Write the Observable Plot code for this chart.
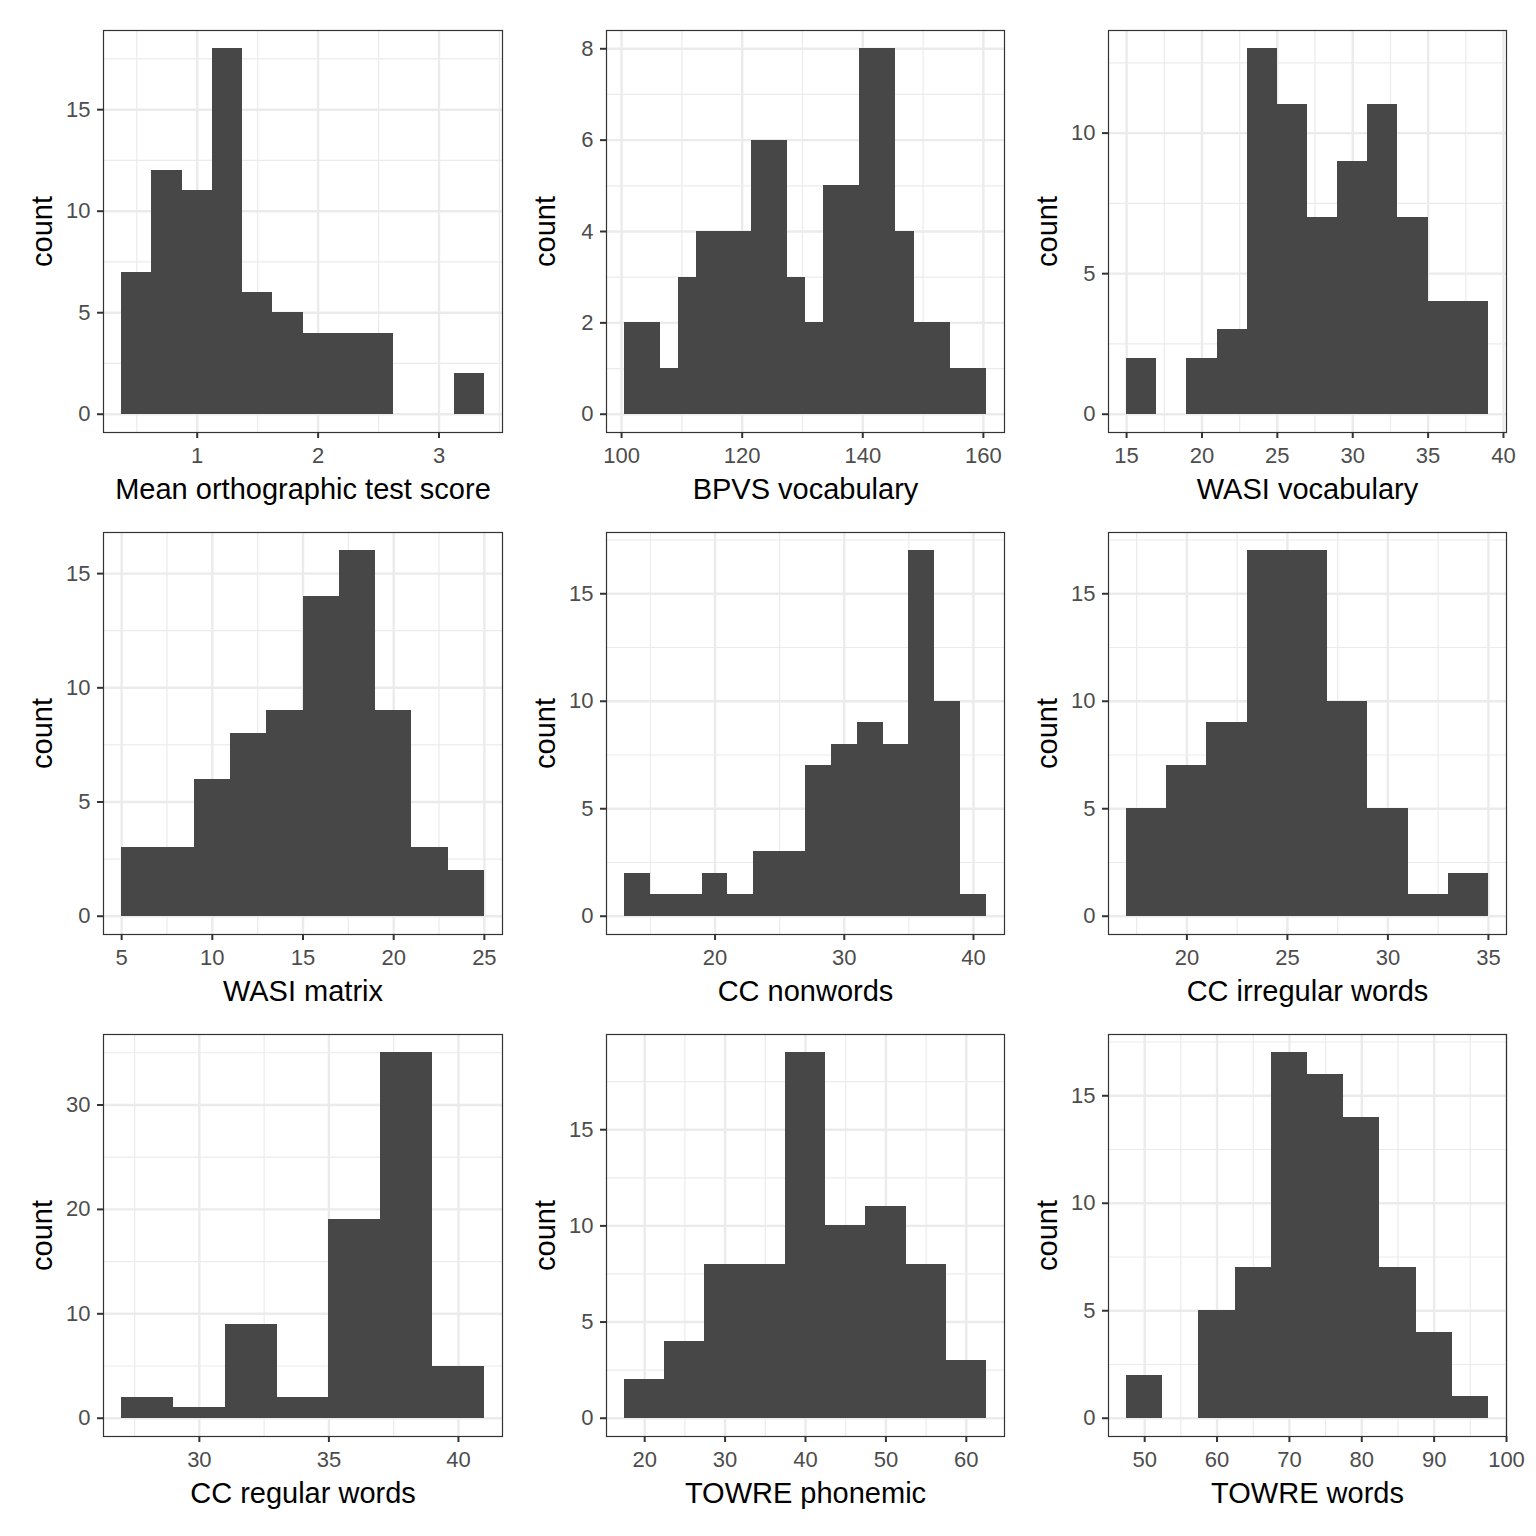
<!DOCTYPE html>
<html>
<head>
<meta charset="utf-8">
<script src="https://cdn.jsdelivr.net/npm/d3@7"></script>
<script src="https://cdn.jsdelivr.net/npm/@observablehq/plot@0.6"></script>
<style>
html, body { margin: 0; padding: 0; background: #ffffff; }
#fig { position: relative; width: 1536px; height: 1536px; background: #ffffff; overflow: hidden; }
#fig svg { position: absolute; }
</style>
</head>
<body>
<div id="fig"></div>
<script>
// ---- Data (histogram counts per bin) ----
const axisTitles = [
  "Mean orthographic test score", "BPVS vocabulary", "WASI vocabulary",
  "WASI matrix", "CC nonwords", "CC irregular words",
  "CC regular words", "TOWRE phonemic", "TOWRE words"
];
const firstBinEdges = [0.375, 100.5, 15, 5, 13, 17, 27, 17.5, 47.5];
const binWidths     = [0.25, 3, 2, 2, 2, 2, 2, 5, 5];

const orthoCounts        = [7, 12, 11, 18, 6, 5, 4, 4, 4, 0, 0, 2];
const bpvsCounts         = [2, 2, 1, 3, 4, 4, 4, 6, 6, 3, 2, 5, 5, 8, 8, 4, 2, 2, 1, 1];
const wasiVocabCounts    = [2, 0, 2, 3, 13, 11, 7, 9, 11, 7, 4, 4];
const wasiMatrixCounts   = [3, 3, 6, 8, 9, 14, 16, 9, 3, 2];
const ccNonwordCounts    = [2, 1, 1, 2, 1, 3, 3, 7, 8, 9, 8, 17, 10, 1];
const ccIrregularCounts  = [5, 7, 9, 17, 17, 10, 5, 1, 2];
const ccRegularCounts    = [2, 1, 9, 2, 19, 35, 5];
const towrePhonemicCounts = [2, 4, 8, 8, 19, 10, 11, 8, 3];
const towreWordCounts    = [2, 0, 5, 7, 17, 16, 14, 7, 4, 1];

const allCounts = [orthoCounts, bpvsCounts, wasiVocabCounts, wasiMatrixCounts,
  ccNonwordCounts, ccIrregularCounts, ccRegularCounts, towrePhonemicCounts, towreWordCounts];

// ---- Tick labels ----
const xMajorTicks = [
  [1, 2, 3], [100, 120, 140, 160], [15, 20, 25, 30, 35, 40],
  [5, 10, 15, 20, 25], [20, 30, 40], [20, 25, 30, 35],
  [30, 35, 40], [20, 30, 40, 50, 60], [50, 60, 70, 80, 90, 100]
];
const xMinorTicks = [
  [0.5, 1.5, 2.5, 3.5], [110, 130, 150], [17.5, 22.5, 27.5, 32.5, 37.5],
  [7.5, 12.5, 17.5, 22.5], [15, 25, 35], [17.5, 22.5, 27.5, 32.5],
  [27.5, 32.5, 37.5], [25, 35, 45, 55], [55, 65, 75, 85, 95]
];
const yMajorTicks = [
  [0, 5, 10, 15], [0, 2, 4, 6, 8], [0, 5, 10],
  [0, 5, 10, 15], [0, 5, 10, 15], [0, 5, 10, 15],
  [0, 10, 20, 30], [0, 5, 10, 15], [0, 5, 10, 15]
];
const yMinorTicks = [
  [2.5, 7.5, 12.5, 17.5], [1, 3, 5, 7], [2.5, 7.5, 12.5],
  [2.5, 7.5, 12.5], [2.5, 7.5, 12.5, 17.5], [2.5, 7.5, 12.5, 17.5],
  [5, 15, 25, 35], [2.5, 7.5, 12.5, 17.5], [2.5, 7.5, 12.5, 17.5]
];

// ---- Styling ----
const BAR = "#474747";
const GRID = "#EBEBEB";
const DARK = "#333333";
const TICKTEXT = "#4D4D4D";
const FONT = "'Liberation Sans', Arial, Helvetica, sans-serif";
const CELL = 502;
const fmt = d => String(d);

const fig = document.getElementById("fig");

allCounts.forEach((counts, p) => {
  const col = p % 3, row = Math.floor(p / 3);
  const start = firstBinEdges[p], w = binWidths[p];
  const bins = counts.map((c, i) => ({x1: start + i * w, x2: start + (i + 1) * w, count: c}));
  const lo = bins[0].x1, hi = bins[bins.length - 1].x2;
  const pad = (hi - lo) * 0.05;
  const ymax = d3.max(counts);

  const chart = Plot.plot({
    width: CELL + 1,
    height: CELL,
    marginLeft: col === 0 ? 103 : 104,
    marginRight: 1,
    marginTop: 30,
    marginBottom: 70,
    style: {background: "transparent", overflow: "visible", fontFamily: FONT, fontSize: "22px"},
    x: {domain: [lo - pad, hi + pad]},
    y: {domain: [-0.05 * ymax, 1.05 * ymax]},
    marks: [
      Plot.gridX(xMinorTicks[p], {stroke: GRID, strokeOpacity: 1, strokeWidth: 1.2}),
      Plot.gridY(yMinorTicks[p], {stroke: GRID, strokeOpacity: 1, strokeWidth: 1.2}),
      Plot.gridX(xMajorTicks[p], {stroke: GRID, strokeOpacity: 1, strokeWidth: 2.4}),
      Plot.gridY(yMajorTicks[p], {stroke: GRID, strokeOpacity: 1, strokeWidth: 2.4}),
      Plot.rect(bins, {x1: "x1", x2: "x2", y1: 0, y2: "count", fill: BAR, shapeRendering: "crispEdges"}),
      Plot.frame({stroke: DARK, strokeWidth: 1.2}),
      Plot.axisX(xMajorTicks[p], {tickSize: 6, tickPadding: 9, tickFormat: fmt, stroke: DARK, strokeWidth: 2, fill: TICKTEXT, fontSize: 22, label: null}),
      Plot.axisY(yMajorTicks[p], {tickSize: 6, tickPadding: 7, tickFormat: fmt, stroke: DARK, strokeWidth: 2, fill: TICKTEXT, fontSize: 22, label: null}),
      Plot.text([axisTitles[p]], {frameAnchor: "bottom", dy: 66, lineAnchor: "bottom", textAnchor: "middle", fontSize: 29, fill: "#000000"}),
      Plot.text(["count"], {frameAnchor: "left", dx: -52, rotate: -90, lineAnchor: "bottom", textAnchor: "middle", fontSize: 29, fill: "#000000"})
    ]
  });
  chart.style.left = (col * CELL) + "px";
  chart.style.top = (row * CELL) + "px";
  fig.appendChild(chart);
});
</script>
</body>
</html>
